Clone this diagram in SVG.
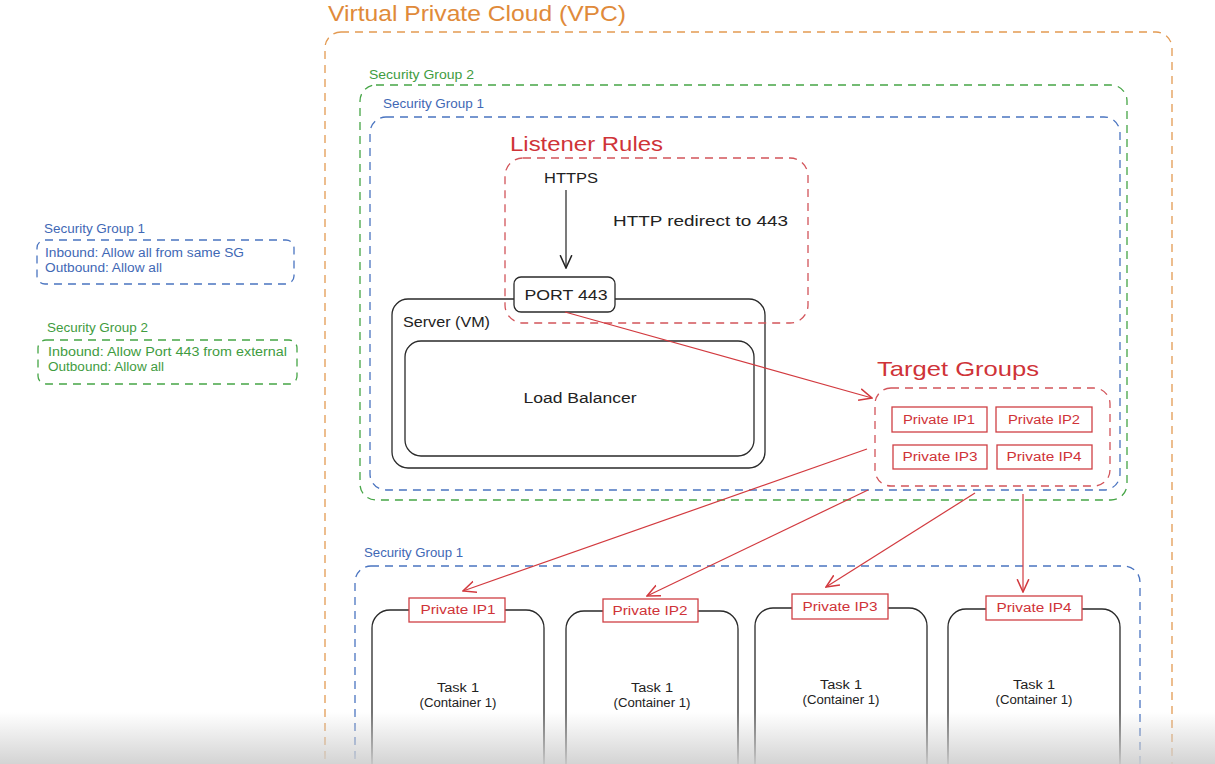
<svg xmlns="http://www.w3.org/2000/svg" width="1215" height="764" viewBox="0 0 1215 764">
<defs>
<style>
text{font-family:"Liberation Sans",Arial,sans-serif;}
.dash{fill:none;stroke-width:1.3;stroke-dasharray:8 6;}
.org{stroke:#e39a52;}
.grn{stroke:#46a546;}
.blu{stroke:#4a74c0;}
.red{stroke:#d2545a;}
.box{fill:#fff;stroke:#2a2a2a;stroke-width:1.3;}
.ip{fill:#fff;stroke:#cf3f44;stroke-width:1.3;}
.tred{fill:#cf3338;}
.tgrn{fill:#3f9c3f;}
.tblu{fill:#3f68b5;}
.tblk{fill:#222;}
.conn{fill:none;stroke:#d23a3f;stroke-width:1.2;}
</style>
<marker id="ahr" viewBox="0 0 12 12" refX="11" refY="6" markerWidth="14" markerHeight="14" orient="auto" markerUnits="userSpaceOnUse">
<path d="M0,1 L11,6 L0,11" fill="none" stroke="#d23a3f" stroke-width="1.3"/>
</marker>
<marker id="ahk" viewBox="0 0 12 12" refX="11" refY="6" markerWidth="14" markerHeight="14" orient="auto" markerUnits="userSpaceOnUse">
<path d="M0,1 L11,6 L0,11" fill="none" stroke="#222" stroke-width="1.3"/>
</marker>
<linearGradient id="fade" x1="0" y1="0" x2="0" y2="1">
<stop offset="0" stop-color="#cfcfcf" stop-opacity="0"/>
<stop offset="1" stop-color="#cfcfcf" stop-opacity="0.9"/>
</linearGradient>
</defs>
<rect width="1215" height="764" fill="#ffffff"/>

<g id="legend-sg1">
<text x="44" y="233" font-size="12" class="tblu" textLength="101" lengthAdjust="spacingAndGlyphs">Security Group 1</text>
<rect x="37" y="240" width="257" height="44" rx="8" class="dash blu"/>
<text x="45" y="257" font-size="12" class="tblu" textLength="199" lengthAdjust="spacingAndGlyphs">Inbound: Allow all from same SG</text>
<text x="45" y="272" font-size="12" class="tblu" textLength="117" lengthAdjust="spacingAndGlyphs">Outbound: Allow all</text>
</g>
<g id="legend-sg2">
<text x="47" y="332" font-size="12" class="tgrn" textLength="101" lengthAdjust="spacingAndGlyphs">Security Group 2</text>
<rect x="38" y="340" width="259" height="44" rx="8" class="dash grn"/>
<text x="48" y="356" font-size="12" class="tgrn" textLength="239" lengthAdjust="spacingAndGlyphs">Inbound: Allow Port 443 from external</text>
<text x="48" y="371" font-size="12" class="tgrn" textLength="116" lengthAdjust="spacingAndGlyphs">Outbound: Allow all</text>
</g>

<g id="vpc">
<text x="328" y="21" font-size="22" fill="#e08a3a" textLength="298" lengthAdjust="spacingAndGlyphs">Virtual Private Cloud (VPC)</text>
<rect x="325" y="32" width="847" height="760" rx="16" class="dash org"/>
</g>
<g id="sg2">
<text x="369" y="79" font-size="12" class="tgrn" textLength="105" lengthAdjust="spacingAndGlyphs">Security Group 2</text>
<rect x="360" y="85" width="767" height="415" rx="16" class="dash grn"/>
</g>
<g id="sg1">
<text x="383" y="108" font-size="12" class="tblu" textLength="101" lengthAdjust="spacingAndGlyphs">Security Group 1</text>
<rect x="370" y="117" width="750" height="373" rx="16" class="dash blu"/>
</g>
<g id="server">
<rect x="392" y="299" width="373" height="169" rx="16" class="box"/>
<text x="403" y="327" font-size="14" class="tblk" textLength="87" lengthAdjust="spacingAndGlyphs">Server (VM)</text>
</g>
<g id="load-balancer">
<rect x="405" y="341" width="349" height="115" rx="16" class="box"/>
<text x="580" y="403" font-size="14" text-anchor="middle" class="tblk" textLength="113" lengthAdjust="spacingAndGlyphs">Load Balancer</text>
</g>
<g id="listener-rules">
<text x="510" y="151" font-size="21" class="tred" textLength="153" lengthAdjust="spacingAndGlyphs">Listener Rules</text>
<rect x="505" y="158" width="303" height="165" rx="18" class="dash red"/>
<text x="544" y="183" font-size="14" class="tblk" textLength="54" lengthAdjust="spacingAndGlyphs">HTTPS</text>
<text x="613" y="226" font-size="14" class="tblk" textLength="175" lengthAdjust="spacingAndGlyphs">HTTP redirect to 443</text>
</g>
<g id="port-443">
<rect x="514" y="277" width="101" height="35" rx="7" class="box"/>
<text x="566" y="300" font-size="14" text-anchor="middle" class="tblk" textLength="83" lengthAdjust="spacingAndGlyphs">PORT 443</text>
</g>
<g id="target-groups">
<text x="877" y="376" font-size="21" class="tred" textLength="162" lengthAdjust="spacingAndGlyphs">Target Groups</text>
<rect x="875" y="388" width="235" height="98" rx="16" class="dash red"/>
<rect x="892" y="407" width="95" height="25" class="ip"/>
<text x="939" y="424" font-size="12" text-anchor="middle" class="tred" textLength="72" lengthAdjust="spacingAndGlyphs">Private IP1</text>
<rect x="996" y="407" width="96" height="25" class="ip"/>
<text x="1044" y="424" font-size="12" text-anchor="middle" class="tred" textLength="72" lengthAdjust="spacingAndGlyphs">Private IP2</text>
<rect x="893" y="445" width="94" height="24" class="ip"/>
<text x="940" y="461" font-size="12" text-anchor="middle" class="tred" textLength="75" lengthAdjust="spacingAndGlyphs">Private IP3</text>
<rect x="997" y="445" width="95" height="24" class="ip"/>
<text x="1044" y="461" font-size="12" text-anchor="middle" class="tred" textLength="75" lengthAdjust="spacingAndGlyphs">Private IP4</text>
</g>

<g id="sg1-tasks">
<text x="364" y="557" font-size="12" class="tblu" textLength="99" lengthAdjust="spacingAndGlyphs">Security Group 1</text>
<rect x="355" y="566" width="785" height="240" rx="16" class="dash blu"/>
</g>
<g id="task1">
<rect x="372" y="610" width="172" height="200" rx="18" class="box"/>
<text x="458" y="692" font-size="12" text-anchor="middle" class="tblk" textLength="42" lengthAdjust="spacingAndGlyphs">Task 1</text>
<text x="458" y="707" font-size="12" text-anchor="middle" class="tblk" textLength="77" lengthAdjust="spacingAndGlyphs">(Container 1)</text>
<rect x="409" y="598" width="96" height="24" class="ip"/>
<text x="458" y="614" font-size="12" text-anchor="middle" class="tred" textLength="75" lengthAdjust="spacingAndGlyphs">Private IP1</text>
</g>
<g id="task2">
<rect x="566" y="611" width="172" height="200" rx="18" class="box"/>
<text x="652" y="692" font-size="12" text-anchor="middle" class="tblk" textLength="42" lengthAdjust="spacingAndGlyphs">Task 1</text>
<text x="652" y="707" font-size="12" text-anchor="middle" class="tblk" textLength="77" lengthAdjust="spacingAndGlyphs">(Container 1)</text>
<rect x="603" y="599" width="95" height="23" class="ip"/>
<text x="650" y="615" font-size="12" text-anchor="middle" class="tred" textLength="75" lengthAdjust="spacingAndGlyphs">Private IP2</text>
</g>
<g id="task3">
<rect x="755" y="608" width="172" height="200" rx="18" class="box"/>
<text x="841" y="689" font-size="12" text-anchor="middle" class="tblk" textLength="42" lengthAdjust="spacingAndGlyphs">Task 1</text>
<text x="841" y="704" font-size="12" text-anchor="middle" class="tblk" textLength="77" lengthAdjust="spacingAndGlyphs">(Container 1)</text>
<rect x="792" y="594" width="96" height="25" class="ip"/>
<text x="840" y="611" font-size="12" text-anchor="middle" class="tred" textLength="75" lengthAdjust="spacingAndGlyphs">Private IP3</text>
</g>
<g id="task4">
<rect x="948" y="609" width="172" height="200" rx="18" class="box"/>
<text x="1034" y="689" font-size="12" text-anchor="middle" class="tblk" textLength="42" lengthAdjust="spacingAndGlyphs">Task 1</text>
<text x="1034" y="704" font-size="12" text-anchor="middle" class="tblk" textLength="77" lengthAdjust="spacingAndGlyphs">(Container 1)</text>
<rect x="986" y="596" width="96" height="24" class="ip"/>
<text x="1034" y="612" font-size="12" text-anchor="middle" class="tred" textLength="75" lengthAdjust="spacingAndGlyphs">Private IP4</text>
</g>

<g id="connectors">
<path d="M566,190 L566,268" fill="none" stroke="#222" stroke-width="1.2" marker-end="url(#ahk)"/>
<path d="M565,312 L872,398" class="conn" marker-end="url(#ahr)"/>
<path d="M867,449 L463,591" class="conn" marker-end="url(#ahr)"/>
<path d="M868,490 L647,596" class="conn" marker-end="url(#ahr)"/>
<path d="M975,493 L826,587" class="conn" marker-end="url(#ahr)"/>
<path d="M1023,494 L1023,592" class="conn" marker-end="url(#ahr)"/>
</g>

<rect x="0" y="712" width="1215" height="52" fill="url(#fade)"/>
</svg>
